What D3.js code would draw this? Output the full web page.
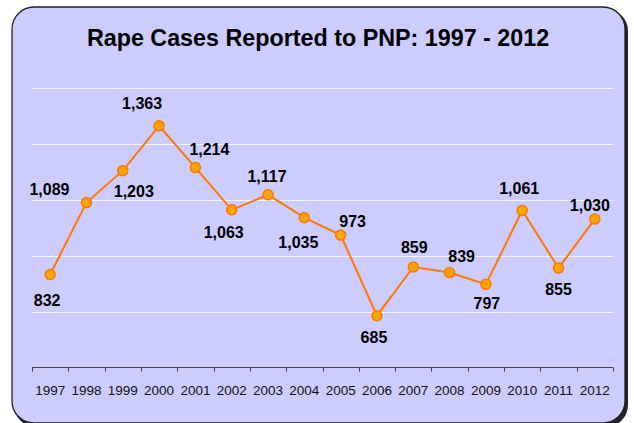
<!DOCTYPE html>
<html>
<head>
<meta charset="utf-8">
<script src="https://cdn.jsdelivr.net/npm/d3@7"></script>
<style>
  body { margin: 0; background: #fff; }
  svg { display: block; }
</style>
</head>
<body>
<svg id="chart" width="634" height="423"></svg>
<script>
// data
let years = ["1997", "1998", "1999", "2000", "2001", "2002", "2003", "2004",
             "2005", "2006", "2007", "2008", "2009", "2010", "2011", "2012"];
let cases = [832, 1089, 1203, 1363, 1214, 1063, 1117, 1035,
             973, 685, 859, 839, 797, 1061, 855, 1030];
let gridValues = [700, 900, 1100, 1300, 1500];
let title = "Rape Cases Reported to PNP: 1997 - 2012";

// where each value label sits relative to its point
let labelOffsets = [[-3, 26], [-37, -13], [11, 21], [-17, -22], [14, -18], [-8, 23],
                    [-1, -18], [-6, 25], [12, -14], [-3, 22], [1, -19], [12, -16],
                    [1, 19], [-3, -22], [0, 21], [-5, -14]];

let svg = d3.select("#chart");

// frame with a small shadow
svg.append("rect")
  .attr("x", 14).attr("y", 9)
  .attr("width", 614).attr("height", 418)
  .attr("rx", 22)
  .attr("fill", "#222");
svg.append("rect")
  .attr("x", 12).attr("y", 7)
  .attr("width", 613).attr("height", 416)
  .attr("rx", 22)
  .attr("fill", "#ccccff")
  .attr("stroke", "#222")
  .attr("stroke-width", 1.3);

svg.append("text")
  .attr("x", 318).attr("y", 46)
  .attr("text-anchor", "middle")
  .attr("font-family", "Liberation Sans, Arial, sans-serif")
  .attr("font-weight", "bold")
  .attr("font-size", "23.3px")
  .attr("fill", "#000")
  .text(title);

let x = d3.scalePoint().domain(years).range([32, 613]).padding(0.5);
let y = d3.scaleLinear().domain([500, 1500]).range([367.5, 87.5]);

// gridlines
svg.selectAll("line.grid")
  .data(gridValues)
  .enter()
  .append("line")
  .attr("class", "grid")
  .attr("x1", 32).attr("x2", 613)
  .attr("y1", (d) => Math.round(y(d)) + 0.5)
  .attr("y2", (d) => Math.round(y(d)) + 0.5)
  .attr("stroke", "#f4f4ff")
  .attr("stroke-width", 1);

// x axis: ticks at band boundaries, labels at centers
let step = x.step();
let edges = d3.range(years.length + 1).map((i) => 32 + i * step);
let axisY = 367.5;
svg.append("line")
  .attr("x1", 32).attr("x2", 613)
  .attr("y1", axisY).attr("y2", axisY)
  .attr("stroke", "#444").attr("stroke-width", 1);
svg.selectAll("line.tick")
  .data(edges)
  .enter()
  .append("line")
  .attr("class", "tick")
  .attr("x1", (d) => Math.round(d) + 0.5)
  .attr("x2", (d) => Math.round(d) + 0.5)
  .attr("y1", axisY).attr("y2", axisY + 4)
  .attr("stroke", "#444").attr("stroke-width", 1);
svg.selectAll("text.year")
  .data(years)
  .enter()
  .append("text")
  .attr("class", "year")
  .attr("x", (d) => x(d))
  .attr("y", 395)
  .attr("text-anchor", "middle")
  .attr("font-family", "Liberation Sans, Arial, sans-serif")
  .attr("font-size", "13.5px")
  .attr("fill", "#111")
  .text((d) => d);

// line
let line = d3.line()
  .x((d, i) => x(years[i]))
  .y((d) => y(d));
svg.append("path")
  .datum(cases)
  .attr("d", line)
  .attr("fill", "none")
  .attr("stroke", "#ff7700")
  .attr("stroke-width", 2);

svg.selectAll("circle.pt")
  .data(cases)
  .enter()
  .append("circle")
  .attr("class", "pt")
  .attr("cx", (d, i) => x(years[i]))
  .attr("cy", (d) => y(d))
  .attr("r", 5)
  .attr("fill", "#ffa500")
  .attr("stroke", "#ff7700")
  .attr("stroke-width", 1.5);

let fmt = d3.format(",");
svg.selectAll("text.val")
  .data(cases)
  .enter()
  .append("text")
  .attr("class", "val")
  .attr("x", (d, i) => x(years[i]) + labelOffsets[i][0])
  .attr("y", (d, i) => y(d) + labelOffsets[i][1] + 5.5)
  .attr("text-anchor", "middle")
  .attr("font-family", "Liberation Sans, Arial, sans-serif")
  .attr("font-weight", "bold")
  .attr("font-size", "16px")
  .attr("fill", "#000")
  .text((d) => fmt(d));
</script>
</body>
</html>
